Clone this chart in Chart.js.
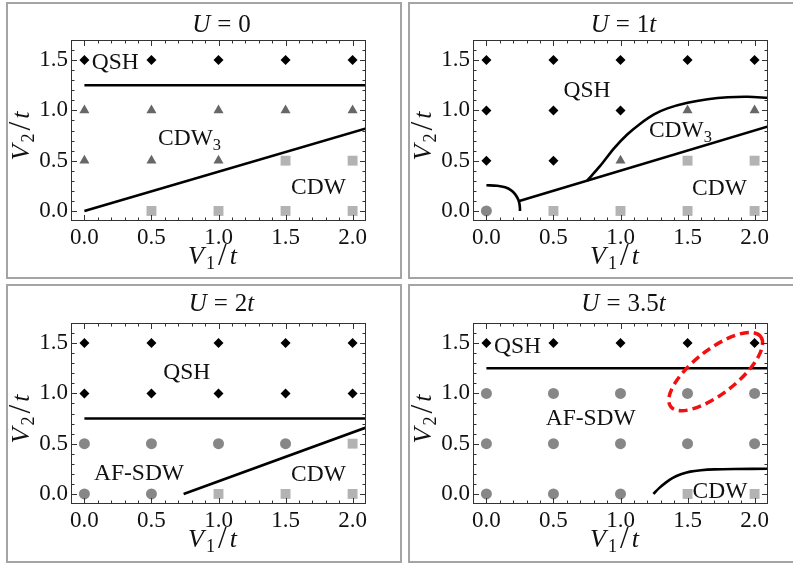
<!DOCTYPE html>
<html>
<head>
<meta charset="utf-8">
<script src="https://cdn.jsdelivr.net/npm/chart.js@4.4.1/dist/chart.umd.min.js"></script>
<style>
  html, body { margin: 0; padding: 0; background: #fff; }
  body { width: 793px; height: 565px; overflow: hidden; position: relative; }
  .panel { position: absolute; width: 392px; border: 2px solid #a4a4a4; background: #fff; }
  .panel canvas { display: block; }
</style>
</head>
<body>
<div class="panel" style="left:6px;top:2px;height:273px"><canvas id="c0" width="392" height="273"></canvas></div>
<div class="panel" style="left:408px;top:2px;height:273px"><canvas id="c1" width="392" height="273"></canvas></div>
<div class="panel" style="left:6px;top:284px;height:275px"><canvas id="c2" width="392" height="275"></canvas></div>
<div class="panel" style="left:408px;top:284px;height:275px"><canvas id="c3" width="392" height="275"></canvas></div>
<script>
// Axis ticks (shared by all four panels)
const xTicks = [0, 0.5, 1, 1.5, 2];
const yTicks = [0, 0.5, 1, 1.5];
const xRange = [-0.1, 2.1];
const yRange = [-0.1, 1.7];

// 1. U = 0
const u0QSH  = [[0,1.5],[0.5,1.5],[1,1.5],[1.5,1.5],[2,1.5]];
const u0CDW3 = [[0,1],[0.5,1],[1,1],[1.5,1],[2,1],[0,0.5],[0.5,0.5],[1,0.5]];
const u0CDW  = [[1.5,0.5],[2,0.5],[0.5,0],[1,0],[1.5,0],[2,0]];
const u0SDW  = [];
const u0Lines = [
    [[0,1.25],[2.1,1.25]],
    [[0,0],[2.1,0.82]]
];

// 2. U = 1t
const u1QSH  = [[0,1.5],[0.5,1.5],[1,1.5],[1.5,1.5],[2,1.5],[0,1],[0.5,1],[1,1],[0,0.5],[0.5,0.5]];
const u1CDW3 = [[1.5,1],[2,1],[1,0.5]];
const u1CDW  = [[1.5,0.5],[2,0.5],[0.5,0],[1,0],[1.5,0],[2,0]];
const u1SDW  = [[0,0]];
const u1Lines = [
    [[0,0.255],[0.08,0.25],[0.14,0.235],[0.185,0.205],[0.215,0.165],[0.235,0.12],[0.245,0.08],[0.25,0.03],[0.25,0]],
    [[0.245,0.1],[2.1,0.84]],
    [[0.75,0.3],[0.85,0.45],[0.95,0.62],[1.05,0.76],[1.15,0.87],[1.25,0.96],[1.35,1.02],[1.5,1.075],[1.65,1.11],[1.8,1.13],[1.95,1.135],[2.1,1.125]]
];

// 3. U = 2t
const u2QSH  = [[0,1.5],[0.5,1.5],[1,1.5],[1.5,1.5],[2,1.5],[0,1],[0.5,1],[1,1],[1.5,1],[2,1]];
const u2CDW3 = [];
const u2CDW  = [[2,0.5],[1,0],[1.5,0],[2,0]];
const u2SDW  = [[0,0.5],[0.5,0.5],[1,0.5],[1.5,0.5],[0,0],[0.5,0]];
const u2Lines = [
    [[0,0.75],[2.1,0.75]],
    [[0.74,0],[2.1,0.66]]
];

// 4. U = 3.5t
const u35QSH  = [[0,1.5],[0.5,1.5],[1,1.5],[1.5,1.5],[2,1.5]];
const u35CDW3 = [];
const u35CDW  = [[1.5,0],[2,0]];
const u35SDW  = [[0,1],[0.5,1],[1,1],[1.5,1],[2,1],[0,0.5],[0.5,0.5],[1,0.5],[1.5,0.5],[2,0.5],[0,0],[0.5,0],[1,0]];
const u35Lines = [
    [[0,1.25],[2.1,1.25]],
    [[1.245,0],[1.29,0.06],[1.34,0.115],[1.39,0.16],[1.45,0.195],[1.52,0.222],[1.6,0.236],[1.7,0.244],[1.85,0.248],[2.1,0.25]]
];
const u35Ellipse = { x: 1.71, y: 1.217 };

// Region labels: [text, subscript, x, y]
const u0Labels  = [['QSH','',0.23,1.49],['CDW','3',0.784,0.733],['CDW','',1.745,0.247]];
const u1Labels  = [['QSH','',0.75,1.213],['CDW','3',1.447,0.817],['CDW','',1.738,0.238]];
const u2Labels  = [['QSH','',0.763,1.226],['AF-SDW','',0.407,0.216],['CDW','',1.745,0.205]];
const u35Labels = [['QSH','',0.232,1.48],['AF-SDW','',0.778,0.765],['CDW','',1.742,0.04]];

// Titles
const titles = [
    [{t:'U',i:1}, {g:7}, {t:'='}, {g:7}, {t:'0'}],
    [{t:'U',i:1}, {g:7}, {t:'='}, {g:7}, {t:'1'}, {t:'t',i:1}],
    [{t:'U',i:1}, {g:7}, {t:'='}, {g:7}, {t:'2'}, {t:'t',i:1}],
    [{t:'U',i:1}, {g:7}, {t:'='}, {g:7}, {t:'3.5'}, {t:'t',i:1}]
];
const xTitle = [{t:'V',i:1}, {g:2}, {t:'1',s:1}, {g:3}, {t:'/',big:1}, {g:3}, {t:'t',i:1}];
const yTitle = [{t:'V',i:1}, {g:2}, {t:'2',s:1}, {g:3}, {t:'/',big:1}, {g:3}, {t:'t',i:1}];

const FONT = "'Liberation Serif', 'Times New Roman', serif";
const toPts = arr => arr.map(p => ({x: p[0], y: p[1]}));
const panelCfg = [];

// Mixed italic / subscript text
function drawRich(ctx, parts, x, y, size, rotate) {
    let w = 0;
    const items = parts.map(p => {
        if (p.g !== undefined) { w += p.g; return {gap: p.g}; }
        const fs = p.s ? size * 0.7 : (p.big ? size * 1.2 : size);
        const f = (p.i ? 'italic ' : '') + fs + 'px ' + FONT;
        ctx.font = f;
        const mw = ctx.measureText(p.t).width;
        w += mw;
        return {t: p.t, f: f, w: mw, dy: p.s ? size * 0.22 : (p.big ? size * 0.05 : 0)};
    });
    ctx.save();
    ctx.translate(x, y);
    if (rotate) ctx.rotate(-Math.PI / 2);
    ctx.fillStyle = '#111';
    ctx.textAlign = 'left';
    ctx.textBaseline = 'alphabetic';
    let cx = -w / 2;
    items.forEach(it => {
        if (it.gap !== undefined) { cx += it.gap; return; }
        ctx.font = it.f;
        ctx.fillText(it.t, cx, it.dy);
        cx += it.w;
    });
    ctx.restore();
}

// Frame with inward major/minor ticks, labels, titles
const framePlugin = {
    id: 'frame',
    afterDatasetsDraw(chart) {
        const cfg = panelCfg[chart.canvas.id];
        const {ctx, chartArea: a, scales: {x, y}} = chart;
        ctx.save();
        // ellipse annotation
        if (cfg.ellipse) {
            ctx.strokeStyle = '#f01010';
            ctx.lineWidth = 3.5;
            ctx.setLineDash([9, 5]);
            ctx.beginPath();
            ctx.ellipse(x.getPixelForValue(cfg.ellipse.x), y.getPixelForValue(cfg.ellipse.y), 57, 22, -38 * Math.PI / 180, 0, Math.PI * 2);
            ctx.stroke();
            ctx.setLineDash([]);
        }
        ctx.strokeStyle = '#333';
        ctx.lineWidth = 1;
        ctx.strokeRect(a.left + 0.5, a.top + 0.5, a.width - 1, a.height - 1);
        ctx.beginPath();
        for (let k = -1; k <= 21; k++) {
            const len = (k % 5 === 0) ? 6 : 3.5;
            const px = Math.round(x.getPixelForValue(k / 10)) + 0.5;
            if (px > a.left + 1 && px < a.right - 1) {
                ctx.moveTo(px, a.bottom); ctx.lineTo(px, a.bottom - len);
                ctx.moveTo(px, a.top); ctx.lineTo(px, a.top + len);
            }
        }
        for (let k = -1; k <= 17; k++) {
            const len = (k % 5 === 0) ? 6 : 3.5;
            const py = Math.round(y.getPixelForValue(k / 10)) + 0.5;
            if (py > a.top + 1 && py < a.bottom - 1) {
                ctx.moveTo(a.left, py); ctx.lineTo(a.left + len, py);
                ctx.moveTo(a.right, py); ctx.lineTo(a.right - len, py);
            }
        }
        ctx.stroke();
        ctx.restore();

        // region labels
        cfg.labels.forEach(l => {
            const parts = l[1] ? [{t: l[0]}, {t: l[1], s: 1}] : [{t: l[0]}];
            drawRich(ctx, parts, x.getPixelForValue(l[2]), y.getPixelForValue(l[3]) + 8, 23.5, false);
        });
        // titles
        const midX = (a.left + a.right) / 2;
        drawRich(ctx, cfg.title, midX + 3, a.top - cfg.titleGap, 25, false);
        drawRich(ctx, xTitle, midX - 6, a.bottom + 42.5, 26, false);
        drawRich(ctx, yTitle, a.left - 42.5, (a.top + a.bottom) / 2 + 5.5, 26, true);
    }
};

function buildPanel(id, qsh, cdw3, cdw, sdw, lines, labels, title, titleGap, ellipse) {
    const canvas = document.getElementById(id);
    const H = canvas.height, W = canvas.width;
    const plotLeft = 63, plotW = 295, plotH = 181;
    const plotTop = H === 273 ? 36 : 37;
    panelCfg[id] = { labels: labels, title: title, titleGap: titleGap, ellipse: ellipse };

    const datasets = [];
    lines.forEach(ln => {
        datasets.push({
            data: toPts(ln), showLine: true, borderColor: '#000', borderWidth: 2.6,
            pointRadius: 0, tension: ln.length > 2 ? 0.3 : 0, fill: false
        });
    });
    datasets.push({ data: toPts(qsh), pointStyle: 'rectRot', pointRadius: 5, backgroundColor: '#000', borderWidth: 0 });
    datasets.push({ data: toPts(cdw3), pointStyle: 'triangle', pointRadius: 5.8, backgroundColor: '#676767', borderWidth: 0 });
    datasets.push({ data: toPts(cdw), pointStyle: 'rect', pointRadius: 7, backgroundColor: '#b3b3b3', borderWidth: 0 });
    datasets.push({ data: toPts(sdw), pointStyle: 'circle', pointRadius: 5.5, backgroundColor: '#878787', borderWidth: 0 });

    const tickFont = { family: FONT, size: 23 };
    return new Chart(canvas.getContext('2d'), {
        type: 'scatter',
        data: { datasets: datasets },
        options: {
            responsive: false,
            animation: false,
            events: [],
            layout: { padding: { left: 0, top: plotTop, right: W - plotLeft - plotW, bottom: 0 } },
            plugins: { legend: { display: false }, tooltip: { enabled: false } },
            scales: {
                x: {
                    type: 'linear', min: xRange[0], max: xRange[1],
                    grid: { display: false, drawTicks: false }, border: { display: false },
                    ticks: { font: tickFont, color: '#111', padding: 3, callback: v => v.toFixed(1), maxRotation: 0 },
                    afterBuildTicks: s => { s.ticks = xTicks.map(v => ({value: v})); },
                    afterFit: s => { s.height = H - plotTop - plotH; s.paddingLeft = 0; s.paddingRight = 0; }
                },
                y: {
                    type: 'linear', min: yRange[0], max: yRange[1],
                    grid: { display: false, drawTicks: false }, border: { display: false },
                    ticks: { font: tickFont, color: '#111', padding: 3, callback: v => v.toFixed(1) },
                    afterBuildTicks: s => { s.ticks = yTicks.map(v => ({value: v})); },
                    afterFit: s => { s.width = plotLeft; s.paddingTop = 0; s.paddingBottom = 0; }
                }
            }
        },
        plugins: [framePlugin]
    });
}

buildPanel('c0', u0QSH, u0CDW3, u0CDW, u0SDW, u0Lines, u0Labels, titles[0], 8.5, null);
buildPanel('c1', u1QSH, u1CDW3, u1CDW, u1SDW, u1Lines, u1Labels, titles[1], 8.5, null);
buildPanel('c2', u2QSH, u2CDW3, u2CDW, u2SDW, u2Lines, u2Labels, titles[2], 12, null);
buildPanel('c3', u35QSH, u35CDW3, u35CDW, u35SDW, u35Lines, u35Labels, titles[3], 12, u35Ellipse);
</script>
</body>
</html>
